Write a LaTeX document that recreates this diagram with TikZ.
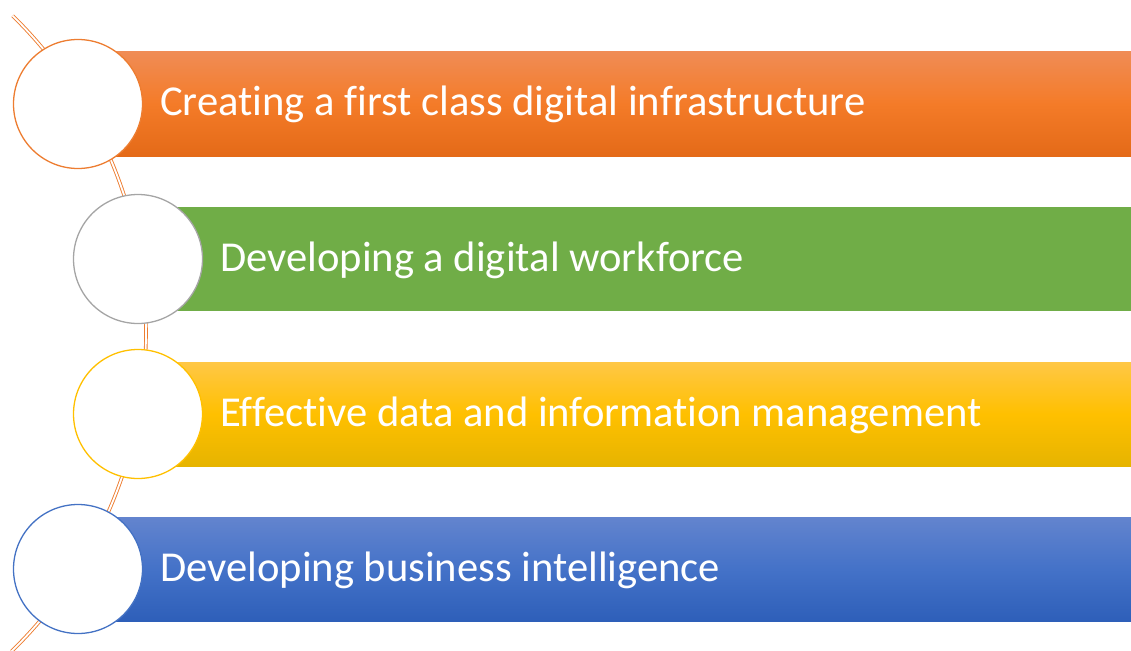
\documentclass[tikz,border=0pt]{standalone}
\usepackage{fontspec}
\setmainfont[Ligatures={NoCommon}]{Carlito}
\definecolor{orTop}{HTML}{F08C55}
\definecolor{orMid}{HTML}{F47B28}
\definecolor{orBot}{HTML}{E46A18}
\definecolor{grBar}{HTML}{70AD47}
\definecolor{yeTop}{HTML}{FFC746}
\definecolor{yeMid}{HTML}{FFC000}
\definecolor{yeBot}{HTML}{E6B400}
\definecolor{blTop}{HTML}{6384CE}
\definecolor{blMid}{HTML}{4472C8}
\definecolor{blBot}{HTML}{2E5FB9}
\definecolor{acOrange}{HTML}{ED7D31}
\definecolor{acGray}{HTML}{A5A5A5}
\definecolor{acYellow}{HTML}{FFC000}
\definecolor{acBlue}{HTML}{4472C4}
\begin{document}
\begin{tikzpicture}[x=1pt,y=-1pt,
  ring/.style={circle,fill=white,line width=1.3pt,minimum size=129pt,inner sep=0pt},
  label/.style={anchor=base west,text=white,font=\fontsize{42.6}{50}\selectfont,inner sep=0pt},
  link/.style={draw=acOrange,double=white,double distance=1.8pt,line width=0.9pt}]
\useasboundingbox (0,0) rectangle (1131,650);
% connecting arc
\draw[link] (-298,333) ++(-45.6:444) arc[start angle=-45.6,end angle=45.8,radius=444];
% bars
\shade[top color=orTop,bottom color=orBot,middle color=orMid] (78,52) rectangle (1131,156);
\fill[grBar] (138,207) rectangle (1131,311);
\shade[top color=yeTop,bottom color=yeBot,middle color=yeMid] (138,362) rectangle (1131,466);
\shade[top color=blTop,bottom color=blBot,middle color=blMid] (78,517) rectangle (1131,621);
% circles
\node[ring,draw=acOrange] (c1) at (78,104) {};
\node[ring,draw=acGray] (c2) at (138,259) {};
\node[ring,draw=acYellow] (c3) at (138,414) {};
\node[ring,draw=acBlue] (c4) at (78,569) {};
% labels
\node[label] (t1) at (160,116) {Creating a first class digital infrastructure};
\node[label] (t2) at (220,271) {Developing a digital workforce};
\node[label] (t3) at (220,426) {Effective data and information management};
\node[label] (t4) at (160,581) {Developing business intelligence};
\end{tikzpicture}
\end{document}
